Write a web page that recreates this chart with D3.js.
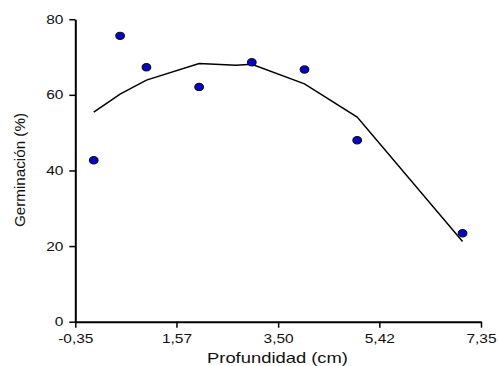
<html>
<head>
<meta charset="utf-8">
<title>Germinación vs profundidad</title>
<style>
  body { margin: 0; background: #fff; }
  text { font-family: "Liberation Sans", Arial, sans-serif; fill: #111; }
</style>
</head>
<body>
<script src="https://cdn.jsdelivr.net/npm/d3@7/dist/d3.min.js"></script>
<script>
// observed points
var depthObs = [0, 0.5, 1, 2, 3, 4, 5, 7];
var germObs = [42.7, 75.6, 67.3, 62.1, 68.6, 66.7, 48.0, 23.4];
// fitted curve
var depthFit = [0, 0.5, 1, 2, 2.7, 3, 4, 5, 7];
var germFit = [55.4, 60.2, 63.9, 68.3, 67.8, 68.1, 62.9, 54.1, 21.2];
// ticks
var xTicks = [-0.35, 1.57, 3.50, 5.42, 7.35];
var yTicks = [0, 20, 40, 60, 80];

var width = 498, height = 366;
var svg = d3.select("body").append("svg")
  .attr("width", width)
  .attr("height", height);

var x = d3.scaleLinear().domain([-0.35, 7.35]).range([75.3, 481]);
var y = d3.scaleLinear().domain([0, 80]).range([321.7, 19.2]);

var fmt = function(d){ return d.toFixed(2).replace(".", ","); };

var gx = svg.append("g")
  .attr("transform", "translate(0," + y(0) + ")")
  .call(d3.axisBottom(x).tickValues(xTicks).tickFormat(fmt).tickSize(6).tickSizeOuter(0));
var gy = svg.append("g")
  .attr("transform", "translate(" + x(-0.35) + ",0)")
  .call(d3.axisLeft(y).tickValues(yTicks).tickSize(6).tickSizeOuter(0));

[gx, gy].forEach(function(g){
  g.select(".domain").attr("stroke", "#000").attr("stroke-width", 2);
  g.selectAll(".tick line").attr("stroke", "#000").attr("stroke-width", 1.5);
  g.selectAll(".tick text").style("font-size", "12.5px").attr("fill", "#111");
});
// the reference glyphs are stretched sideways
gx.selectAll(".tick text").attr("dy", "0.95em").attr("transform", "scale(1.24,1)");
gy.selectAll(".tick text").attr("x", -8).attr("transform", "translate(-2,0) scale(1.24,1)");

// fitted line
var line = d3.line()
  .x(function(d){ return x(d[0]); })
  .y(function(d){ return y(d[1]); });
svg.append("path")
  .datum(depthFit.map(function(d, i){ return [d, germFit[i]]; }))
  .attr("d", line)
  .attr("fill", "none")
  .attr("stroke", "#000")
  .attr("stroke-width", 1.5);

// points
svg.selectAll(".pt")
  .data(depthObs)
  .enter()
  .append("ellipse")
  .attr("class", "pt")
  .attr("cx", function(d){ return x(d); })
  .attr("cy", function(d, i){ return y(germObs[i]); })
  .attr("rx", 4.3)
  .attr("ry", 3.6)
  .attr("fill", "#0000e6")
  .attr("stroke", "#111")
  .attr("stroke-width", 1.2);

// axis titles
svg.append("text")
  .attr("x", 277.5)
  .attr("y", 363)
  .attr("text-anchor", "middle")
  .attr("textLength", 141)
  .attr("lengthAdjust", "spacingAndGlyphs")
  .style("font-size", "14.5px")
  .text("Profundidad (cm)");

svg.append("text")
  .attr("transform", "translate(24.5,170) rotate(-90)")
  .attr("text-anchor", "middle")
  .attr("textLength", 114)
  .attr("lengthAdjust", "spacingAndGlyphs")
  .style("font-size", "14.5px")
  .text("Germinación (%)");
</script>
</body>
</html>
